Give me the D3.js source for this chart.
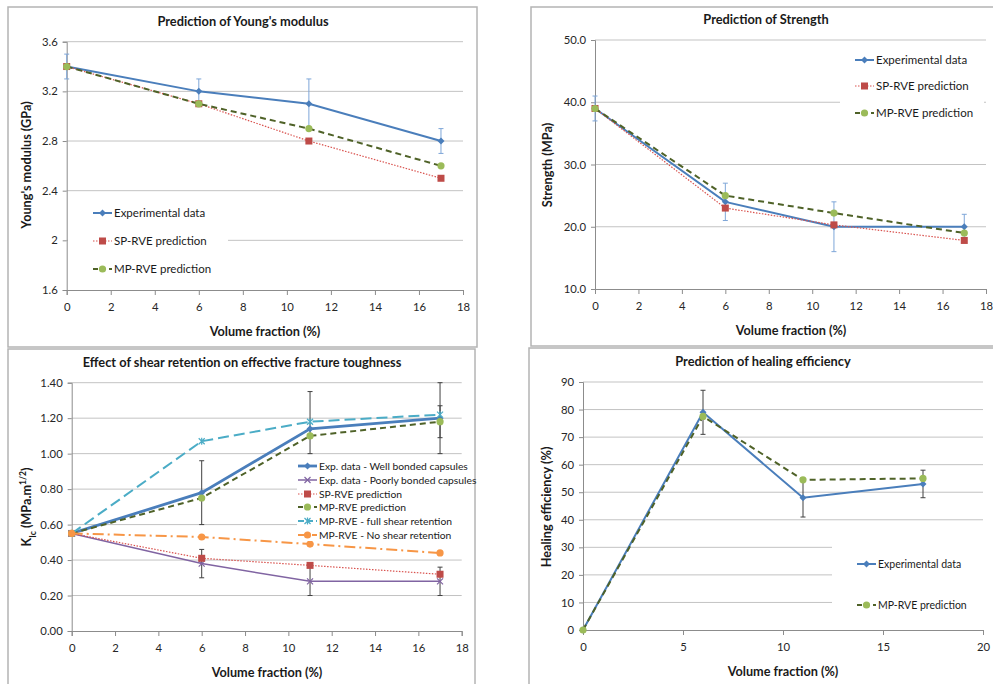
<!DOCTYPE html>
<html>
<head>
<meta charset="utf-8">
<script src="https://cdn.jsdelivr.net/npm/d3@7"></script>
<style>
    body { margin: 0; background: #fff; }
    text { font-family: Lato, 'Open Sans', sans-serif; fill: #1a1a1a; }
    .title { font-weight: bold; font-size: 12.8px; }
    .axis-title { font-weight: bold; font-size: 12.7px; }
    .tick-label { font-size: 11.3px; fill: #262626; }
    .legend-text { font-size: 11.5px; }
</style>
</head>
<body>
<script>

//////////
// DATA //
//////////

var volFrac = [0, 6, 11, 17];

var xTicks18 = [0, 2, 4, 6, 8, 10, 12, 14, 16, 18],
    xTicks20 = [0, 5, 10, 15, 20];

// young's modulus (GPa)
var youngTicks = [1.6, 2, 2.4, 2.8, 3.2, 3.6];
var youngExp = [3.4, 3.2, 3.1, 2.8],
    youngExpErr = [[3.3, 3.5], [3.1, 3.3], [2.9, 3.3], [2.7, 2.9]],
    youngSP = [3.4, 3.1, 2.8, 2.5],
    youngMP = [3.4, 3.1, 2.9, 2.6];

// strength (MPa)
var strengthTicks = [10, 20, 30, 40, 50];
var strengthExp = [39, 24, 20, 20],
    strengthExpErr = [[37, 41], [21, 27], [16, 24], [18, 22]],
    strengthSP = [39, 23, 20.3, 17.8],
    strengthMP = [39, 25, 22.2, 19];

// fracture toughness (MPa.m^1/2)
var toughTicks = [0, 0.2, 0.4, 0.6, 0.8, 1.0, 1.2, 1.4];
var toughWell = [0.55, 0.78, 1.14, 1.20],
    toughWellErr = [null, [0.60, 0.96], [1.00, 1.35], [1.00, 1.40]],
    toughPoor = [0.55, 0.38, 0.28, 0.28],
    toughPoorErr = [null, [0.30, 0.46], [0.20, 0.36], [0.20, 0.36]],
    toughSP = [0.55, 0.41, 0.37, 0.32],
    toughMP = [0.55, 0.75, 1.10, 1.18],
    toughMPErr = [null, null, null, [1.09, 1.27]],
    toughFull = [0.55, 1.07, 1.18, 1.22],
    toughNone = [0.55, 0.53, 0.49, 0.44];

// healing efficiency (%)
var healTicks = [0, 10, 20, 30, 40, 50, 60, 70, 80, 90];
var healExp = [0, 79, 48, 53],
    healExpErr = [null, [71, 87], [41, 55], [48, 58]],
    healMP = [0, 77.5, 54.5, 55];

////////////
// STYLES //
////////////

var blue = '#4a7ebb',
    red = '#be4b48',
    redLine = '#d9534f',
    greenMarker = '#9bbb59',
    greenLine = '#4f6228',
    cyan = '#4bacc6',
    orange = '#f79646',
    purple = '#8064a2',
    gridColor = '#c3c3c3',
    axisColor = '#8c8c8c';

var svg = d3.select('body')
    .append('svg')
    .attr('width', 993)
    .attr('height', 684);

/////////////
// MARKERS //
/////////////

function drawMarker(g, type, x, y, color) {
    if (type === 'diamond') {
        g.append('path')
            .attr('d', 'M' + x + ',' + (y - 3.5) + 'L' + (x + 3.5) + ',' + y + 'L' + x + ',' + (y + 3.5) + 'L' + (x - 3.5) + ',' + y + 'Z')
            .attr('fill', color);
    } else if (type === 'square') {
        g.append('rect')
            .attr('x', x - 3.5).attr('y', y - 3.5)
            .attr('width', 7).attr('height', 7)
            .attr('fill', color);
    } else if (type === 'circle') {
        g.append('circle')
            .attr('cx', x).attr('cy', y).attr('r', 3.6)
            .attr('fill', color);
    } else if (type === 'x' || type === 'star') {
        var p = 'M' + (x - 3) + ',' + (y - 3) + 'L' + (x + 3) + ',' + (y + 3) +
            'M' + (x - 3) + ',' + (y + 3) + 'L' + (x + 3) + ',' + (y - 3);
        if (type === 'star') p += 'M' + x + ',' + (y - 3.5) + 'L' + x + ',' + (y + 3.5);
        g.append('path')
            .attr('d', p)
            .attr('stroke', color)
            .attr('stroke-width', 1.2)
            .attr('fill', 'none');
    }
}

//////////////////////////
// PANEL DRAWING SCRIPT //
//////////////////////////

function drawPanel(cfg) {

    var g = svg.append('g');

    // panel frame
    g.append('rect')
        .attr('x', cfg.frame[0])
        .attr('y', cfg.frame[1])
        .attr('width', cfg.frame[2])
        .attr('height', cfg.frame[3])
        .attr('fill', 'none')
        .attr('stroke', '#b4b4b4')
        .attr('stroke-width', 1.5);

    var xScale = d3.scaleLinear()
        .domain(cfg.xDomain)
        .range([cfg.left, cfg.right]);

    var yScale = d3.scaleLinear()
        .domain(cfg.yDomain)
        .range([cfg.bottom, cfg.top]);

    // gridlines
    g.selectAll('.grid')
        .data(cfg.yTicks.slice(1))
        .enter()
        .append('line')
        .attr('x1', cfg.left)
        .attr('x2', cfg.right)
        .attr('y1', function(d) { return yScale(d); })
        .attr('y2', function(d) { return yScale(d); })
        .attr('stroke', gridColor)
        .attr('stroke-width', 1);

    // y axis
    var yAxis = d3.axisLeft(yScale)
        .tickValues(cfg.yTicks)
        .tickSize(4)
        .tickPadding(5)
        .tickFormat(cfg.yFormat);

    var yg = g.append('g')
        .attr('transform', 'translate(' + cfg.left + ',0)')
        .call(yAxis);

    // x axis
    var xAxis = d3.axisBottom(xScale)
        .tickValues(cfg.xTicks)
        .tickSize(5)
        .tickPadding(8)
        .tickFormat(d3.format('d'));

    var xg = g.append('g')
        .attr('transform', 'translate(0,' + cfg.bottom + ')')
        .call(xAxis);

    [xg, yg].forEach(function(a) {
        a.attr('font-family', null).attr('font-size', null);
        a.select('.domain').attr('stroke', axisColor).attr('stroke-width', 1);
        a.selectAll('.tick line').attr('stroke', axisColor);
        a.selectAll('.tick text').attr('class', 'tick-label');
    });

    // titles
    g.append('text')
        .attr('class', 'title')
        .attr('x', cfg.titleX)
        .attr('y', cfg.titleY)
        .attr('text-anchor', 'middle')
        .text(cfg.title);

    g.append('text')
        .attr('class', 'axis-title')
        .attr('x', cfg.xTitleX)
        .attr('y', cfg.bottom + 46)
        .attr('text-anchor', 'middle')
        .text('Volume fraction (%)');

    var yt = g.append('text')
        .attr('class', 'axis-title')
        .attr('transform', 'translate(' + cfg.yTitleX + ',' + cfg.yTitleY + ') rotate(-90)')
        .attr('text-anchor', 'middle');
    if (cfg.yTitleParts) {
        cfg.yTitleParts.forEach(function(p) {
            yt.append('tspan')
                .attr('baseline-shift', p.shift || null)
                .attr('font-size', p.shift ? '8.5px' : null)
                .text(p.t);
        });
    } else {
        yt.text(cfg.yTitle);
    }

    // series
    var line = d3.line()
        .x(function(d) { return xScale(d[0]); })
        .y(function(d) { return yScale(d[1]); });

    cfg.series.forEach(function(s) {
        var pts = volFrac.map(function(v, i) { return [v, s.values[i]]; });

        // error bars
        if (s.err) {
            s.err.forEach(function(e, i) {
                if (!e) return;
                var x = xScale(volFrac[i]);
                g.append('path')
                    .attr('d', 'M' + x + ',' + yScale(e[0]) + 'V' + yScale(e[1]) +
                        'M' + (x - 2.5) + ',' + yScale(e[0]) + 'H' + (x + 2.5) +
                        'M' + (x - 2.5) + ',' + yScale(e[1]) + 'H' + (x + 2.5))
                    .attr('stroke', cfg.errColor)
                    .attr('stroke-width', 1)
                    .attr('fill', 'none');
            });
        }

        g.append('path')
            .datum(pts)
            .attr('d', line)
            .attr('fill', 'none')
            .attr('stroke', s.line)
            .attr('stroke-width', s.width)
            .attr('stroke-dasharray', s.dash || null);

        pts.forEach(function(p) {
            drawMarker(g, s.marker, xScale(p[0]), yScale(p[1]), s.markerColor);
        });
    });

    // legend
    var lg = cfg.legend;
    g.append('rect')
        .attr('x', lg.box[0])
        .attr('y', lg.box[1])
        .attr('width', lg.box[2])
        .attr('height', lg.box[3])
        .attr('fill', '#fff');

    cfg.series.forEach(function(s, i) {
        var y = lg.ys[i];
        g.append('line')
            .attr('x1', lg.x).attr('x2', lg.x + 19)
            .attr('y1', y).attr('y2', y)
            .attr('stroke', s.line)
            .attr('stroke-width', s.width)
            .attr('stroke-dasharray', s.legendDash || s.dash || null);
        drawMarker(g, s.marker, lg.x + 9.5, y, s.markerColor);
        g.append('text')
            .attr('class', 'legend-text')
            .attr('x', lg.x + 21)
            .attr('y', y)
            .attr('dy', '0.35em')
            .style('font-size', lg.fontSize || null)
            .text(s.name);
    });
}

////////////
// PANELS //
////////////

drawPanel({
    frame: [8, 7, 469, 340],
    left: 66.7, right: 463, top: 41.7, bottom: 290,
    xDomain: [0, 18], xTicks: xTicks18,
    yDomain: [1.6, 3.6], yTicks: youngTicks,
    yFormat: function(d) { return String(+d.toFixed(1)); },
    title: "Prediction of Young's modulus", titleX: 243, titleY: 26,
    xTitleX: 265,
    yTitle: "Young's modulus (GPa)", yTitleX: 31, yTitleY: 165,
    errColor: '#7ea6d8',
    series: [
        { name: 'Experimental data', values: youngExp, err: youngExpErr, line: blue, width: 2, marker: 'diamond', markerColor: blue },
        { name: 'SP-RVE prediction', values: youngSP, line: redLine, width: 1.2, dash: '1.5,1.5', marker: 'square', markerColor: red },
        { name: 'MP-RVE prediction', values: youngMP, line: greenLine, width: 2, dash: '6,4', legendDash: '5,3', marker: 'circle', markerColor: greenMarker }
    ],
    legend: { box: [68, 197, 160, 88], x: 93, ys: [213, 241, 269] }
});

drawPanel({
    frame: [531, 7, 470, 339],
    left: 595, right: 986, top: 40, bottom: 289,
    xDomain: [0, 18], xTicks: xTicks18,
    yDomain: [10, 50], yTicks: strengthTicks,
    yFormat: d3.format('.1f'),
    title: 'Prediction of Strength', titleX: 766, titleY: 24,
    xTitleX: 791,
    yTitle: 'Strength (MPa)', yTitleX: 552, yTitleY: 165,
    errColor: '#7ea6d8',
    series: [
        { name: 'Experimental data', values: strengthExp, err: strengthExpErr, line: blue, width: 2, marker: 'diamond', markerColor: blue },
        { name: 'SP-RVE prediction', values: strengthSP, line: redLine, width: 1.2, dash: '1.5,1.5', marker: 'square', markerColor: red },
        { name: 'MP-RVE prediction', values: strengthMP, line: greenLine, width: 2, dash: '6,4', legendDash: '5,3', marker: 'circle', markerColor: greenMarker }
    ],
    legend: { box: [840, 45, 144, 80], x: 855, ys: [60, 86, 113] }
});

drawPanel({
    frame: [8, 349, 467, 340],
    left: 71.7, right: 461.7, top: 382.7, bottom: 631,
    xDomain: [0, 18], xTicks: xTicks18,
    yDomain: [0, 1.4], yTicks: toughTicks,
    yFormat: d3.format('.2f'),
    title: 'Effect of shear retention on effective fracture toughness', titleX: 242, titleY: 367,
    xTitleX: 267,
    yTitleParts: [{ t: 'K' }, { t: 'Ic', shift: 'sub' }, { t: ' (MPa.m' }, { t: '1/2', shift: 'super' }, { t: ')' }],
    yTitleX: 31, yTitleY: 507,
    errColor: '#404040',
    series: [
        { name: 'Exp. data - Well bonded capsules', values: toughWell, err: toughWellErr, line: blue, width: 2.8, marker: 'diamond', markerColor: blue },
        { name: 'Exp. data - Poorly bonded capsules', values: toughPoor, err: toughPoorErr, line: purple, width: 1.5, marker: 'x', markerColor: purple },
        { name: 'SP-RVE prediction', values: toughSP, line: redLine, width: 1.2, dash: '1.5,1.5', marker: 'square', markerColor: red },
        { name: 'MP-RVE prediction', values: toughMP, err: toughMPErr, line: greenLine, width: 2, dash: '6,4', legendDash: '5,3', marker: 'circle', markerColor: greenMarker },
        { name: 'MP-RVE - full shear retention', values: toughFull, line: cyan, width: 2, dash: '11,5', legendDash: '6,3', marker: 'star', markerColor: cyan },
        { name: 'MP-RVE - No shear retention', values: toughNone, line: orange, width: 2, dash: '11,4,2,4', legendDash: '6,3,2,3', marker: 'circle', markerColor: orange }
    ],
    legend: { box: [297, 458, 177, 83], x: 298, ys: [466, 480, 494, 507, 521, 535], fontSize: '10.3px' }
});

drawPanel({
    frame: [529, 348, 470, 340],
    left: 583, right: 983, top: 382, bottom: 630,
    xDomain: [0, 20], xTicks: xTicks20,
    yDomain: [0, 90], yTicks: healTicks,
    yFormat: d3.format('d'),
    title: 'Prediction of healing efficiency', titleX: 763, titleY: 366,
    xTitleX: 783,
    yTitle: 'Healing efficiency (%)', yTitleX: 551, yTitleY: 507,
    errColor: '#404040',
    series: [
        { name: 'Experimental data', values: healExp, err: healExpErr, line: blue, width: 2, marker: 'diamond', markerColor: blue },
        { name: 'MP-RVE prediction', values: healMP, line: greenLine, width: 2, dash: '6,4', legendDash: '5,3', marker: 'circle', markerColor: greenMarker }
    ],
    legend: { box: [832, 524, 152, 100], x: 857, ys: [564, 605], fontSize: '10.5px' }
});

</script>
</body>
</html>
